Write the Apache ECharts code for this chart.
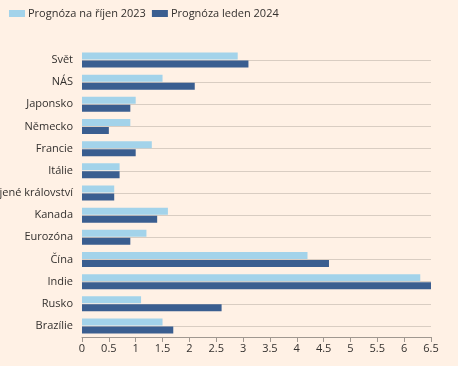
<!DOCTYPE html>
<html><head><meta charset="utf-8">
<script src="https://cdn.jsdelivr.net/npm/echarts@6/dist/echarts.min.js"></script>
<style>html,body{margin:0;padding:0;background:#fff1e5}#c{width:458px;height:366px}</style>
</head><body><div id="c"></div>
<script>
const categories = ['Svět','NÁS','Japonsko','Německo','Francie','Itálie','Spojené království','Kanada','Eurozóna','Čína','Indie','Rusko','Brazílie'];
const seriesNames = ['Prognóza na říjen 2023','Prognóza leden 2024'];
const oct2023 = [2.9,1.5,1.0,0.9,1.3,0.7,0.6,1.6,1.2,4.2,6.3,1.1,1.5];
const jan2024 = [3.1,2.1,0.9,0.5,1.0,0.7,0.6,1.4,0.9,4.6,6.5,2.6,1.7];
const xTicks = {min:0,max:6.5,interval:0.5};
const font = 'Open Sans';
const chart = echarts.init(document.getElementById('c'), null, {renderer:'canvas'});
chart.setOption({
  backgroundColor:'#fff1e5',
  animation:false,
  legend:{left:4,top:3,itemWidth:16,itemHeight:7,itemGap:6,icon:'rect',
    textStyle:{fontFamily:font,fontSize:11,color:'#33302e',padding:[0,0,0,-2]},
    data:seriesNames},
  grid:{left:82,right:27,top:60,bottom:40,containLabel:false,outerBoundsMode:'none'},
  xAxis:{type:'value',min:xTicks.min,max:xTicks.max,interval:xTicks.interval,offset:11,
    axisLine:{show:true,lineStyle:{color:'#a09890'}},
    axisTick:{show:true,length:5,lineStyle:{color:'#a09890'}},
    axisLabel:{fontFamily:font,fontSize:11,color:'#33302e',margin:6,
      formatter:v=>String(v)},
    splitLine:{show:false}},
  yAxis:{type:'category',data:categories,inverse:true,boundaryGap:false,
    axisLine:{show:false},axisTick:{show:false},
    axisLabel:{fontFamily:font,fontSize:11,color:'#33302e',margin:9,interval:0},
    splitLine:{show:true,lineStyle:{color:'#d9cdc2',width:1}}},
  series:[
    {name:seriesNames[0],type:'bar',data:oct2023,barWidth:7,barGap:'14%',itemStyle:{color:'#a3d3ea'}},
    {name:seriesNames[1],type:'bar',data:jan2024,barWidth:7,itemStyle:{color:'#3a5e90'}}
  ]
});
</script></body></html>
